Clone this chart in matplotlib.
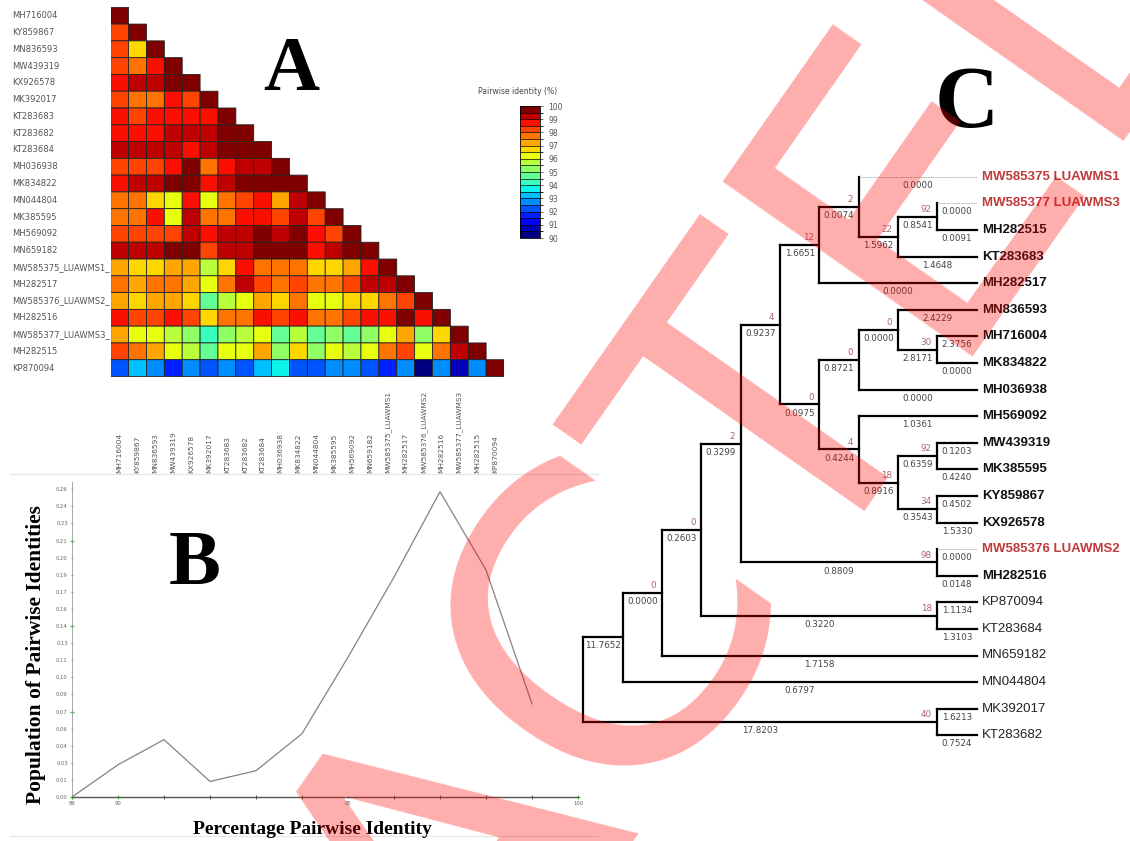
import numpy as np
import matplotlib
matplotlib.use("Agg")
import matplotlib.pyplot as plt
from matplotlib.colors import BoundaryNorm
from matplotlib.transforms import blended_transform_factory as blend

W, H = 1130, 841

# ───────── Panel A: pairwise identity matrix (%) ─────────
seq_names = ['MH716004', 'KY859867', 'MN836593', 'MW439319', 'KX926578', 'MK392017',
             'KT283683', 'KT283682', 'KT283684', 'MH036938', 'MK834822', 'MN044804',
             'MK385595', 'MH569092', 'MN659182', 'MW585375_LUAWMS1_', 'MH282517',
             'MW585376_LUAWMS2_', 'MH282516', 'MW585377_LUAWMS3_', 'MH282515', 'KP870094']

identity = [
    [100],
    [98.0, 100],
    [98.2, 96.9, 100],
    [98.2, 97.8, 98.9, 100],
    [98.6, 99.0, 99.0, 99.6, 100],
    [98.1, 97.8, 97.5, 98.9, 98.1, 100],
    [98.5, 98.4, 98.9, 98.9, 98.8, 98.9, 100],
    [98.5, 98.9, 98.9, 99.1, 99.3, 99.2, 99.6, 100],
    [99.2, 99.0, 99.2, 99.0, 98.9, 99.2, 99.6, 99.6, 100],
    [98.2, 98.4, 98.3, 98.6, 99.7, 97.9, 98.9, 99.2, 99.0, 100],
    [98.8, 99.2, 99.0, 99.6, 99.7, 98.8, 99.2, 99.5, 99.5, 99.6, 100],
    [97.6, 97.8, 96.8, 96.3, 98.8, 96.4, 97.8, 98.2, 98.5, 97.0, 99.0, 100],
    [97.8, 97.8, 98.5, 96.4, 99.0, 97.5, 97.8, 98.8, 98.8, 98.3, 99.0, 98.0, 100],
    [98.2, 98.3, 98.2, 98.4, 99.2, 98.5, 99.0, 99.3, 99.5, 99.0, 99.6, 98.5, 98.0, 100],
    [99.0, 99.3, 99.0, 99.6, 99.6, 98.2, 99.3, 99.3, 99.6, 99.6, 99.6, 98.8, 99.2, 99.6, 100],
    [97.0, 96.8, 96.8, 97.0, 97.0, 95.8, 96.8, 98.5, 97.5, 97.5, 97.6, 96.9, 96.5, 97.0, 98.8, 100],
    [97.5, 97.2, 97.5, 97.5, 97.3, 96.4, 97.5, 99.0, 98.0, 97.8, 98.2, 97.6, 97.6, 98.0, 99.0, 99.2, 100],
    [97.2, 96.8, 97.0, 97.4, 96.6, 94.8, 95.8, 96.0, 97.4, 96.8, 97.6, 96.3, 96.2, 96.9, 96.9, 97.6, 98.3, 100],
    [98.8, 98.3, 98.3, 98.8, 98.2, 96.8, 97.8, 97.8, 98.8, 98.3, 98.8, 97.7, 97.7, 98.3, 98.5, 98.9, 99.5, 98.8, 100],
    [97.3, 96.3, 96.1, 95.7, 95.0, 94.0, 95.2, 95.5, 96.2, 94.8, 95.8, 94.5, 95.0, 94.6, 95.2, 96.3, 97.0, 95.2, 96.8, 100],
    [98.2, 97.5, 97.2, 96.4, 95.6, 94.6, 96.2, 96.3, 97.2, 95.2, 96.8, 95.2, 96.3, 95.8, 96.0, 97.6, 98.2, 96.3, 97.6, 99.0, 100],
    [92.0, 93.0, 92.7, 91.9, 92.6, 92.4, 92.6, 92.4, 93.2, 93.7, 92.0, 92.2, 92.6, 92.5, 92.2, 91.5, 92.5, 90.3, 92.7, 90.9, 92.5, 100],
]
cbar_ticks = list(range(90, 101))

# ───────── Panel B: distribution of pairwise identities ─────────
pid_x = [89, 90, 91, 92, 93, 94, 95, 96, 97, 98, 99]
pid_pop = [0.0, 0.027, 0.048, 0.013, 0.022, 0.053, 0.117, 0.184, 0.2555, 0.190, 0.078]
pop_ticks = np.linspace(0, 0.2575, 19)
pid_ticks_major = [89, 90, 95, 100]

# ───────── Panel C: tree (parent, child, branch length, bootstrap) ─────────
edges = [
    ('root', 'n1', 11.7652, None), ('root', 'n20', 17.8203, 40),
    ('n1', 'n2', 0.0000, 0), ('n1', 'MN044804', 0.6797, None),
    ('n2', 'n3', 0.2603, 0), ('n2', 'MN659182', 1.7158, None),
    ('n3', 'n4', 0.3299, 2), ('n3', 'n19', 0.3220, 18),
    ('n4', 'n5', 0.9237, 4), ('n4', 'n18', 0.8809, 98),
    ('n5', 'n6', 1.6651, 12), ('n5', 'n7', 0.0975, 0),
    ('n6', 'n8', 0.0074, 2), ('n6', 'MH282517', 0.0000, None),
    ('n8', 'MW585375 LUAWMS1', 0.0000, None), ('n8', 'n9', 1.5962, 22),
    ('n9', 'n10', 0.8541, 92), ('n9', 'KT283683', 1.4648, None),
    ('n10', 'MW585377 LUAWMS3', 0.0000, None), ('n10', 'MH282515', 0.0091, None),
    ('n7', 'n11', 0.8721, 0), ('n7', 'n14', 0.4244, 4),
    ('n11', 'n12', 0.0000, 0), ('n11', 'MH036938', 0.0000, None),
    ('n12', 'MN836593', 2.4229, None), ('n12', 'n13', 2.8171, 30),
    ('n13', 'MH716004', 2.3756, None), ('n13', 'MK834822', 0.0000, None),
    ('n14', 'MH569092', 1.0361, None), ('n14', 'n15', 0.8916, 18),
    ('n15', 'n16', 0.6359, 92), ('n15', 'n17', 0.3543, 34),
    ('n16', 'MW439319', 0.1203, None), ('n16', 'MK385595', 0.4240, None),
    ('n17', 'KY859867', 0.4502, None), ('n17', 'KX926578', 1.5330, None),
    ('n18', 'MW585376 LUAWMS2', 0.0000, None), ('n18', 'MH282516', 0.0148, None),
    ('n19', 'KP870094', 1.1134, None), ('n19', 'KT283684', 1.3103, None),
    ('n20', 'MK392017', 1.6213, None), ('n20', 'KT283682', 0.7524, None),
]
red_tips = ['MW585375 LUAWMS1', 'MW585377 LUAWMS3', 'MW585376 LUAWMS2']
plain_tips = ['KP870094', 'KT283684', 'MN659182', 'MN044804', 'MK392017', 'KT283682']


def rect(x0, y0, x1, y1):
    return [x0 / W, 1 - y1 / H, (x1 - x0) / W, (y1 - y0) / H]


fig = plt.figure(figsize=(W / 100, H / 100), dpi=100)
serif = 'Liberation Serif'

# ───────── A ─────────
n = len(seq_names)
M = np.full((n, n), np.nan)
for i, row in enumerate(identity):
    M[i, :len(row)] = row
cmap = plt.get_cmap('jet')
norm = BoundaryNorm(np.arange(90, 100.01, 0.5), cmap.N)

axA = fig.add_axes(rect(110.7, 7.3, 504, 376.5))
mesh = axA.pcolor(np.ma.masked_invalid(M), cmap=cmap, norm=norm,
                  edgecolors='#222222', linewidth=0.6)
axA.set_xlim(0, n)
axA.set_ylim(n, 0)
axA.axis('off')
row_tr = blend(fig.transFigure, axA.transData)
col_tr = blend(axA.transData, fig.transFigure)
for i, name in enumerate(seq_names):
    axA.text(12 / W, i + 0.5, name, transform=row_tr, fontsize=6, color='#555555',
             ha='left', va='center')
    axA.text(i + 0.5, 1 - 473 / H, name.rstrip('_'), transform=col_tr, fontsize=5.3,
             color='#555555', rotation=90, ha='center', va='bottom')
fig.text(291 / W, 1 - 72 / H, 'A', family=serif, weight='bold', fontsize=56,
         ha='center', va='center')

cax = fig.add_axes(rect(520, 106, 540, 238))
cb = fig.colorbar(mesh, cax=cax, ticks=cbar_ticks, drawedges=True)
cb.outline.set_linewidth(0.6)
cb.dividers.set_linewidth(0.5)
cb.ax.tick_params(labelsize=5.5, length=2.5, width=0.6, colors='#555555')
fig.text(518 / W, 1 - 91 / H, 'Pairwise identity (%)', fontsize=5.5, color='#444444',
         ha='center', va='center')

# ───────── B ─────────
axB = fig.add_axes(rect(72, 482, 578, 797))
axB.plot(pid_x, pid_pop, color='#8a8080', lw=0.9)
axB.set_xlim(89, 100)
axB.set_ylim(0, 0.2575 * 315 / 307.7)
axB.set_yticks(pop_ticks)
axB.set_yticklabels([f'{v:.2f}' for v in pop_ticks])
axB.set_xticks(pid_ticks_major)
axB.set_xticks(range(89, 101), minor=True)
axB.tick_params(labelsize=3.8, length=2, width=0.5, colors='#666666', direction='inout', pad=2)
axB.tick_params(which='minor', length=3, width=0.5, direction='inout')
for side in ['top', 'right']:
    axB.spines[side].set_visible(False)
axB.spines['left'].set_color('#999999')
axB.spines['left'].set_linewidth(0.6)
axB.spines['bottom'].set_color('#555555')
axB.spines['bottom'].set_linewidth(1.0)
axB.plot([89] * 4, pop_ticks[::5][:4], '+', color='#33cc33', ms=3, mew=0.8, clip_on=False)
axB.plot([89, 90, 100], [0, 0, 0], '+', color='#33cc33', ms=3, mew=0.8, clip_on=False)
fig.text(36 / W, 1 - 655 / H, 'Population of Pairwise Identities', family=serif,
         weight='bold', fontsize=15.5, rotation=90, ha='center', va='center')
fig.text(312 / W, 1 - 829 / H, 'Percentage Pairwise Identity', family=serif,
         weight='bold', fontsize=14, ha='center', va='center')
fig.text(195 / W, 1 - 566 / H, 'B', family=serif, weight='bold', fontsize=56,
         ha='center', va='center')
fig.add_artist(plt.Line2D([10 / W, 598 / W], [1 - 474 / H] * 2, color='#e6e6e6', lw=0.8))
fig.add_artist(plt.Line2D([10 / W, 598 / W], [1 - 836 / H] * 2, color='#e6e6e6', lw=0.8))

# ───────── C ─────────
children = {}
for parent, child, bl, bs in edges:
    children.setdefault(parent, []).append(child)

tips = []
height = {}
ypos = {}


def layout(node):
    if node not in children:
        ypos[node] = len(tips)
        tips.append(node)
        height[node] = 0
        return
    for c in children[node]:
        layout(c)
    height[node] = 1 + max(height[c] for c in children[node])
    ypos[node] = (ypos[children[node][0]] + ypos[children[node][-1]]) / 2


layout('root')
top = height['root']
xpos = {k: top - h for k, h in height.items()}

axC = fig.add_axes(rect(560, 140, 1130, 760))
step_x, step_y = 39.34, 26.6
axC.set_xlim((560 - 583.3) / step_x, (1130 - 583.3) / step_x)
axC.set_ylim((760 - 176.7) / step_y, (140 - 176.7) / step_y)
axC.axis('off')

for node, kids in children.items():
    axC.plot([xpos[node]] * 2, [ypos[kids[0]], ypos[kids[-1]]], color='k', lw=1.6,
             solid_capstyle='projecting')
for parent, child, bl, bs in edges:
    x0, x1, y = xpos[parent], xpos[child], ypos[child]
    if child in red_tips:
        axC.plot([x0, x1], [y, y], color='#888888', lw=0.6, ls=(0, (1, 1)))
    else:
        axC.plot([x0, x1], [y, y], color='k', lw=1.6, solid_capstyle='projecting')
    axC.annotate(f'{bl:.4f}', ((x0 + x1) / 2, y), xytext=(0, -3), textcoords='offset points',
                 fontsize=6.3, color='#444444', ha='center', va='top')
    if bs is not None:
        axC.annotate(str(bs), (x1, y), xytext=(-4, 2), textcoords='offset points',
                     fontsize=6.3, color='#a8636b', ha='right', va='bottom')
for t in tips:
    if t in red_tips:
        col, wt = '#c0393b', 'bold'
    elif t in plain_tips:
        col, wt = '#222222', 'normal'
    else:
        col, wt = '#111111', 'bold'
    axC.annotate(t, (xpos[t], ypos[t]), xytext=(4, 0), textcoords='offset points',
                 family='Liberation Sans', fontsize=9.5, weight=wt, color=col,
                 ha='left', va='center')
fig.text(967 / W, 1 - 105 / H, 'C', family=serif, weight='bold', fontsize=64,
         ha='center', va='center')

# watermark
fig.text(460 / W, 1 - 830 / H, 'RETRACTED', fontsize=300, color='red', alpha=0.32,
         rotation=55, ha='center', va='center', zorder=50)

fig.savefig('out.png', dpi=100, facecolor='white')
